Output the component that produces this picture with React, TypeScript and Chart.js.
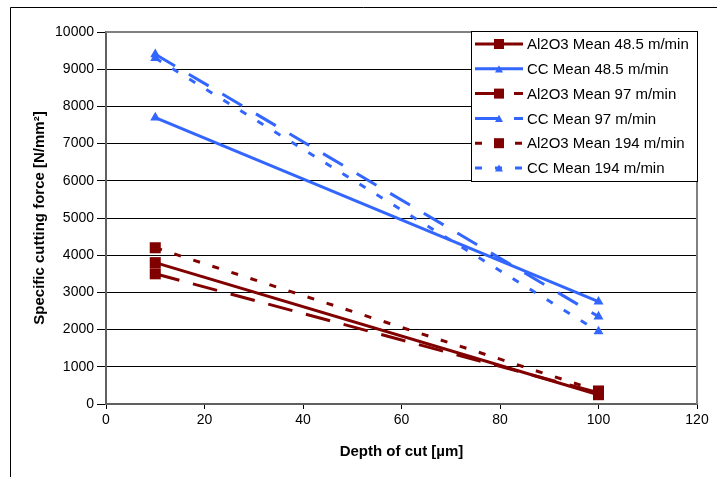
import { useEffect, useRef } from 'react';
import { Chart, registerables } from 'chart.js';

Chart.register(...registerables);

const depthOfCut = [10, 100];
const al2o3Mean485 = [3800, 250];
const ccMean485 = [7700, 2750];
const al2o3Mean97 = [3500, 300];
const ccMean97 = [9400, 2350];
const al2o3Mean194 = [4200, 350];
const ccMean194 = [9300, 1950];

const seriesLabels = [
  'Al2O3 Mean 48.5 m/min',
  'CC Mean 48.5 m/min',
  'Al2O3 Mean 97 m/min',
  'CC Mean 97 m/min',
  'Al2O3 Mean 194 m/min',
  'CC Mean 194 m/min',
];
const seriesValues = [al2o3Mean485, ccMean485, al2o3Mean97, ccMean97, al2o3Mean194, ccMean194];

const xTitle = 'Depth of cut [µm]';
const yTitle = 'Specific cutting force [N/mm²]';

const RED = '#800000';
const BLUE = '#3366FF';
const FONT = "'Liberation Sans', Arial, sans-serif";

const styles = [
  { color: RED, dash: [] as number[], shape: 'rect' },
  { color: BLUE, dash: [] as number[], shape: 'triangle' },
  { color: RED, dash: [25, 14], shape: 'rect' },
  { color: BLUE, dash: [23, 16], shape: 'triangle' },
  { color: RED, dash: [7, 13], shape: 'rect' },
  { color: BLUE, dash: [7, 13], shape: 'triangle' },
];

function drawMarker(ctx: CanvasRenderingContext2D, shape: string, x: number, y: number, color: string, size: number) {
  ctx.save();
  ctx.fillStyle = color;
  ctx.setLineDash([]);
  if (shape === 'rect') {
    ctx.fillRect(x - size / 2, y - size / 2, size, size);
  } else {
    const h = size * 0.9;
    ctx.beginPath();
    ctx.moveTo(x, y - h / 2);
    ctx.lineTo(x + size / 2, y + h / 2);
    ctx.lineTo(x - size / 2, y + h / 2);
    ctx.closePath();
    ctx.fill();
  }
  ctx.restore();
}

const decorPlugin = {
  id: 'decor',
  beforeDraw(chart: any) {
    const ctx = chart.ctx as CanvasRenderingContext2D;
    ctx.save();
    ctx.fillStyle = '#fff';
    ctx.fillRect(0, 0, chart.width, chart.height);
    ctx.strokeStyle = '#000';
    ctx.lineWidth = 1;
    ctx.beginPath();
    ctx.moveTo(10.5, chart.height);
    ctx.lineTo(10.5, 7.5);
    ctx.lineTo(chart.width, 7.5);
    ctx.stroke();
    ctx.restore();
  },
  afterDraw(chart: any) {
    const ctx = chart.ctx as CanvasRenderingContext2D;
    const a = chart.chartArea;
    ctx.save();
    ctx.strokeStyle = '#808080';
    ctx.lineWidth = 2;
    ctx.beginPath();
    ctx.moveTo(a.left, a.top);
    ctx.lineTo(a.right, a.top);
    ctx.lineTo(a.right, a.bottom);
    ctx.stroke();

    ctx.fillStyle = '#000';
    ctx.font = `bold 15px ${FONT}`;
    ctx.textAlign = 'center';
    ctx.textBaseline = 'middle';
    ctx.fillText(xTitle, (a.left + a.right) / 2, 452);
    ctx.save();
    ctx.translate(40, (a.top + a.bottom) / 2);
    ctx.rotate(-Math.PI / 2);
    ctx.fillText(yTitle, 0, 0);
    ctx.restore();

    const bx = 471, by = 31, bw = a.right - 471, bh = 150;
    ctx.fillStyle = '#fff';
    ctx.fillRect(bx, by, bw, bh);
    ctx.strokeStyle = '#000';
    ctx.lineWidth = 1;
    ctx.strokeRect(bx + 0.5, by + 0.5, bw, bh);
    ctx.font = `15px ${FONT}`;
    ctx.textAlign = 'left';
    ctx.textBaseline = 'middle';
    chart.data.datasets.forEach((ds: any, i: number) => {
      const st = styles[i];
      const y = 44 + i * 24.8;
      ctx.save();
      ctx.strokeStyle = st.color;
      ctx.lineWidth = 3;
      ctx.setLineDash(st.dash);
      ctx.beginPath();
      ctx.moveTo(475, y);
      ctx.lineTo(523, y);
      ctx.stroke();
      ctx.restore();
      drawMarker(ctx, st.shape, 499, y, st.color, st.shape === 'rect' ? 10 : 8);
      ctx.fillStyle = '#000';
      ctx.fillText(ds.label, 527, y + 1);
    });
    ctx.restore();
  },
};

export default function App() {
  const ref = useRef<HTMLCanvasElement | null>(null);
  useEffect(() => {
    document.body.style.margin = '0';
    const canvas = ref.current;
    if (!canvas) return;
    const chart = new Chart(canvas, {
      type: 'line',
      data: {
        datasets: seriesValues.map((vals, i) => ({
          label: seriesLabels[i],
          data: depthOfCut.map((x, j) => ({ x, y: vals[j] })),
          borderColor: styles[i].color,
          backgroundColor: styles[i].color,
          borderWidth: 3,
          borderDash: styles[i].dash,
          pointStyle: styles[i].shape,
          pointRadius: styles[i].shape === 'rect' ? 7.8 : 5.8,
          pointBorderWidth: 0,
          pointBackgroundColor: styles[i].color,
          fill: false,
          tension: 0,
        })),
      },
      options: {
        responsive: false,
        animation: false,
        layout: { padding: { left: 10, top: 32, right: 20, bottom: 0 } },
        plugins: { legend: { display: false }, tooltip: { enabled: false } },
        scales: {
          x: {
            type: 'linear',
            min: 0,
            max: 120,
            afterFit: (s: any) => { s.height = 73; },
            ticks: { stepSize: 20, color: '#000', font: { family: FONT, size: 14 }, padding: 3, maxRotation: 0, callback: (v: any) => String(v) },
            grid: { drawOnChartArea: false, drawTicks: true, tickLength: 5, color: '#000' },
            border: { color: '#606060', width: 2 },
          },
          y: {
            type: 'linear',
            min: 0,
            max: 10000,
            afterFit: (s: any) => { s.width = 96; },
            ticks: { stepSize: 1000, color: '#000', font: { family: FONT, size: 14 }, padding: 3, callback: (v: any) => String(v) },
            grid: { color: '#000', lineWidth: 1, tickLength: 9, tickColor: '#000' },
            border: { color: '#606060', width: 2 },
          },
        },
      },
      plugins: [decorPlugin],
    } as any);
    return () => chart.destroy();
  }, []);
  return (
    <div style={{ position: 'absolute', left: 0, top: 0, width: 717, height: 477 }}>
      <canvas ref={ref} width={717} height={477} style={{ display: 'block', width: 717, height: 477 }} />
    </div>
  );
}
